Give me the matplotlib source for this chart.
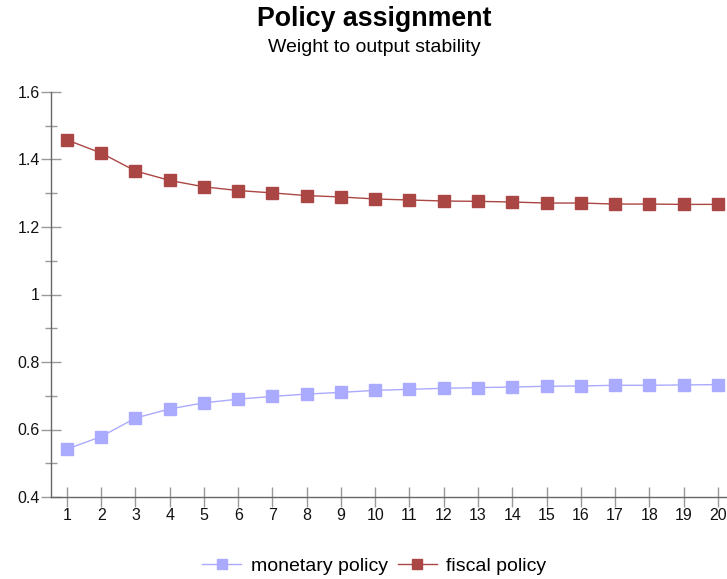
import matplotlib
matplotlib.use("Agg")
import matplotlib.pyplot as plt
from matplotlib.ticker import MultipleLocator, FuncFormatter

plt.rcParams['font.family'] = ['Liberation Sans', 'DejaVu Sans']

periods = list(range(1, 21))
monetary = [0.542, 0.579, 0.634, 0.661, 0.679, 0.690, 0.698, 0.705, 0.710, 0.716,
            0.719, 0.722, 0.724, 0.726, 0.728, 0.729, 0.731, 0.731, 0.732, 0.733]
fiscal = [1.458, 1.419, 1.366, 1.338, 1.319, 1.308, 1.301, 1.293, 1.289, 1.283,
          1.280, 1.277, 1.276, 1.274, 1.271, 1.271, 1.268, 1.268, 1.267, 1.267]
series_names = ["monetary policy", "fiscal policy"]
title = "Policy assignment"
subtitle = "Weight to output stability"

fig = plt.figure(figsize=(7.27, 5.79), dpi=100)
ax = fig.add_axes([51/727, 1-497/579, 1-51/727, (497-92)/579])

ax.plot(periods, monetary, color="#AAAAFF", lw=1, marker="s", ms=8.5,
        markeredgecolor="#AAAAFF", label=series_names[0], clip_on=False)
ax.plot(periods, fiscal, color="#AA4643", lw=1, marker="s", ms=8.5,
        markeredgecolor="#AA4643", label=series_names[1], clip_on=False)

ax.set_xlim(0.533, 20.27)
ax.set_ylim(0.4, 1.6)
ax.set_xticks(periods)
ax.yaxis.set_major_locator(MultipleLocator(0.2))
ax.yaxis.set_minor_locator(MultipleLocator(0.1))
ax.yaxis.set_major_formatter(FuncFormatter(lambda v, p: f"{round(v, 1):g}"))

for s in ["top", "right"]:
    ax.spines[s].set_visible(False)
for s in ["left", "bottom"]:
    ax.spines[s].set_color("#666666")
    ax.spines[s].set_linewidth(1)

ax.tick_params(axis="both", which="major", direction="inout", length=14,
               color="#999999", width=1, labelsize=11.5, labelcolor="#111111")
ax.tick_params(axis="y", which="minor", direction="inout", length=8.5,
               color="#999999", width=1)
ax.tick_params(axis="y", which="major", pad=1)
ax.tick_params(axis="x", which="major", pad=1)

fig.text(0.515, 1-19/579, title, ha="center", va="center", fontsize=19.3,
         fontweight="bold", color="#000000")
fig.text(0.515, 1-47/579, subtitle, ha="center", va="center", fontsize=14,
         color="#000000")

fig.legend(loc="center", bbox_to_anchor=(0.515, 1-566/579), ncol=2, frameon=False,
           fontsize=14, handlelength=2.0, columnspacing=0.5, handletextpad=0.5,
           markerscale=0.9)

fig.savefig("out.png", dpi=100)
